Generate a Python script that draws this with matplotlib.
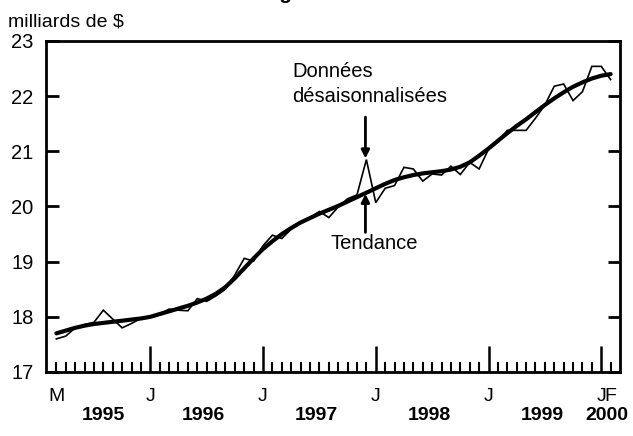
import matplotlib.pyplot as plt
import numpy as np
from matplotlib.transforms import blended_transform_factory

plt.rcParams['font.family'] = ['Liberation Sans', 'DejaVu Sans']

# months counted from March 1995 (0) to February 2000 (59)
sa_values = [17.60, 17.65, 17.80, 17.86, 17.90, 18.12, 17.96, 17.80, 17.88, 17.97,
             18.00, 18.05, 18.14, 18.12, 18.11, 18.33, 18.28, 18.38, 18.50, 18.76,
             19.06, 19.01, 19.29, 19.48, 19.42, 19.59, 19.71, 19.80, 19.91, 19.80,
             19.99, 20.14, 20.21, 20.85, 20.07, 20.33, 20.38, 20.71, 20.68, 20.46,
             20.59, 20.57, 20.73, 20.58, 20.80, 20.68, 21.04, 21.17, 21.38, 21.38,
             21.38, 21.60, 21.84, 22.18, 22.22, 21.92, 22.08, 22.54, 22.54, 22.30]
trend_values = [17.70, 17.75, 17.80, 17.84, 17.87, 17.89, 17.91, 17.93, 17.95, 17.97,
                18.00, 18.05, 18.10, 18.15, 18.20, 18.26, 18.33, 18.42, 18.54, 18.70,
                18.88, 19.06, 19.23, 19.37, 19.50, 19.61, 19.71, 19.79, 19.87, 19.94,
                20.01, 20.09, 20.17, 20.25, 20.33, 20.41, 20.48, 20.53, 20.57, 20.60,
                20.62, 20.64, 20.67, 20.72, 20.80, 20.92, 21.05, 21.19, 21.33, 21.46,
                21.58, 21.71, 21.84, 21.96, 22.07, 22.17, 22.25, 22.32, 22.37, 22.40]
month_pos = [0, 10, 22, 34, 46, 58, 59]
month_labels = ['M', 'J', 'J', 'J', 'J', 'J', 'F']
year_pos = [5.0, 15.7, 27.7, 39.7, 51.7, 58.6]
year_labels = ['1995', '1996', '1997', '1998', '1999', '2000']
jan_pos = [10, 22, 34, 46, 58]
peak_month = 33

t = np.arange(len(sa_values))

fig = plt.figure(figsize=(6.33, 4.36), dpi=100)
ax = fig.add_axes([0.0727, 0.1468, 0.9068, 0.7592])

ax.plot(t, sa_values, color='black', linewidth=1.2, solid_joinstyle='miter')
ax.plot(t, trend_values, color='black', linewidth=3.0, solid_capstyle='round')

ax.set_xlim(-1.1, 60.0)
ax.set_ylim(17, 23)

for s in ax.spines.values():
    s.set_linewidth(2.0)

ax.set_yticks(range(17, 24))
ax.tick_params(axis='y', which='major', direction='in', length=9, width=2,
               left=True, right=True, labelsize=14.5, pad=9)
ax.set_xticks(jan_pos)
ax.set_xticks([m for m in range(0, 60) if m not in jan_pos], minor=True)
ax.tick_params(axis='x', which='major', direction='in', length=19, width=1.8,
               labelbottom=False)
ax.tick_params(axis='x', which='minor', direction='in', length=7, width=1.5)

trans = blended_transform_factory(ax.transData, ax.transAxes)
for p, lab in zip(month_pos, month_labels):
    ax.text(p, -0.075, lab, transform=trans, ha='center', va='center', fontsize=14)
for p, lab in zip(year_pos, year_labels):
    ax.text(p, -0.13, lab, transform=trans, ha='center', va='center',
            fontsize=14, fontweight='bold')

fig.text(0.013, 0.95, 'milliards de $', fontsize=14, ha='left', va='center')
# title is only partly visible at the top edge, as in the source
fig.text(0.45, 1.003, "Ventes des magasins de détail", fontsize=15,
         fontweight='bold', ha='center', va='baseline')

# annotations
ax.annotate('', xy=(peak_month - 0.1, sa_values[peak_month] + 0.02),
            xytext=(peak_month - 0.1, 21.62),
            arrowprops=dict(arrowstyle='-|>', color='black', lw=2,
                            mutation_scale=12, shrinkA=0, shrinkB=0))
ax.annotate('', xy=(peak_month - 0.1, trend_values[peak_month] - 0.02),
            xytext=(peak_month - 0.1, 19.53),
            arrowprops=dict(arrowstyle='-|>', color='black', lw=2,
                            mutation_scale=12, shrinkA=0, shrinkB=0))
ax.text(25.1, 22.22, 'Données\ndésaisonnalisées', fontsize=14.5, ha='left',
        va='center', linespacing=1.38)
ax.text(peak_month + 0.8, 19.33, 'Tendance', fontsize=14.5, ha='center',
        va='center')

fig.savefig('out.png', dpi=100)
